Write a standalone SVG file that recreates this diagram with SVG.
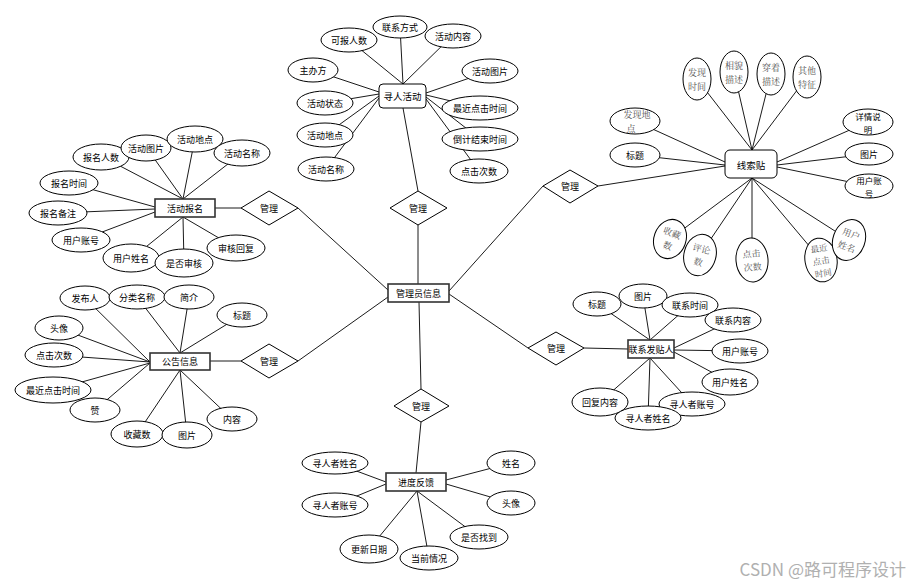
<svg xmlns="http://www.w3.org/2000/svg" width="912" height="584" viewBox="0 0 912 584">
<style>
.c line{stroke:#000;stroke-width:0.9}
ellipse{fill:#fff;stroke:#000;stroke-width:1}
.d{fill:#fff;stroke:#000;stroke-width:1}
.e{fill:#fff;stroke:#333;stroke-width:1.6}
.r{fill:#fff;stroke:#000;stroke-width:1}
text{font-family:"Noto Sans CJK SC","Noto Sans",sans-serif;font-size:9px;text-anchor:middle;dominant-baseline:central;fill:#000}
.s{font-family:"Noto Serif CJK SC","Noto Sans CJK SC",serif;font-size:9px;fill:#555}
.t{font-size:8.5px}
.w{font-size:17px;fill:#b0b0b0;text-anchor:end}
</style>
<rect width="912" height="584" fill="#fff"/>
<g id="connectors" class="c">
<line x1="349" y1="40" x2="403" y2="84"/><line x1="400" y1="27" x2="403" y2="84"/><line x1="453" y1="35" x2="403" y2="84"/>
<line x1="313" y1="70" x2="379" y2="92"/><line x1="325" y1="103" x2="379" y2="94"/><line x1="325" y1="135" x2="379" y2="96"/><line x1="326" y1="169" x2="379" y2="98"/>
<line x1="490" y1="71" x2="426" y2="93"/><line x1="480" y1="108" x2="426" y2="95"/><line x1="480" y1="139" x2="426" y2="97"/><line x1="479" y1="171" x2="426" y2="99"/>
<line x1="403" y1="108" x2="418" y2="191"/><line x1="418" y1="225" x2="418" y2="284"/>
<line x1="697" y1="79" x2="752" y2="150"/><line x1="734" y1="72" x2="752" y2="150"/><line x1="771" y1="74" x2="752" y2="150"/><line x1="807" y1="77" x2="752" y2="150"/>
<line x1="635" y1="121" x2="725" y2="162"/><line x1="635" y1="155" x2="725" y2="165"/>
<line x1="868" y1="122" x2="777" y2="162"/><line x1="869" y1="154" x2="777" y2="165"/><line x1="869" y1="186" x2="777" y2="167"/>
<line x1="670" y1="239" x2="752" y2="178"/><line x1="700" y1="255" x2="752" y2="178"/><line x1="752" y1="260" x2="752" y2="178"/><line x1="821" y1="260" x2="752" y2="178"/><line x1="849" y1="240" x2="752" y2="178"/>
<line x1="598" y1="186" x2="725" y2="166"/><line x1="543" y1="186" x2="449" y2="291"/>
<line x1="101" y1="156" x2="183" y2="199"/><line x1="146" y1="147" x2="183" y2="199"/><line x1="195" y1="138" x2="183" y2="199"/><line x1="242" y1="153" x2="183" y2="199"/>
<line x1="69" y1="183" x2="155" y2="207"/><line x1="58" y1="213" x2="155" y2="209"/><line x1="81" y1="240" x2="155" y2="212"/>
<line x1="131" y1="259" x2="183" y2="217"/><line x1="184" y1="263" x2="183" y2="217"/><line x1="236" y1="248" x2="183" y2="217"/>
<line x1="215" y1="208" x2="241" y2="208"/><line x1="298" y1="208" x2="388" y2="290"/>
<line x1="85" y1="298" x2="150" y2="362"/><line x1="137" y1="297" x2="180" y2="353"/><line x1="189" y1="297" x2="180" y2="353"/><line x1="242" y1="315" x2="180" y2="353"/>
<line x1="59" y1="328" x2="150" y2="362"/><line x1="54" y1="355" x2="150" y2="362"/><line x1="53" y1="390" x2="150" y2="363"/><line x1="95" y1="410" x2="150" y2="363"/>
<line x1="137" y1="434" x2="180" y2="370"/><line x1="187" y1="435" x2="180" y2="370"/><line x1="232" y1="419" x2="180" y2="370"/>
<line x1="210" y1="361" x2="241" y2="361"/><line x1="298" y1="361" x2="388" y2="297"/>
<line x1="597" y1="304" x2="650" y2="340"/><line x1="643" y1="296" x2="650" y2="340"/><line x1="690" y1="305" x2="650" y2="340"/>
<line x1="733" y1="320" x2="674" y2="348"/><line x1="740" y1="351" x2="674" y2="350"/><line x1="730" y1="382" x2="674" y2="352"/>
<line x1="600" y1="402" x2="650" y2="358"/><line x1="648" y1="418" x2="650" y2="358"/><line x1="692" y1="404" x2="650" y2="358"/>
<line x1="584" y1="348" x2="628" y2="349"/><line x1="528" y1="348" x2="449" y2="294"/>
<line x1="419" y1="302" x2="421" y2="389"/><line x1="421" y1="422" x2="416" y2="473"/>
<line x1="335" y1="463" x2="386" y2="482"/><line x1="335" y1="505" x2="386" y2="484"/>
<line x1="369" y1="549" x2="417" y2="491"/><line x1="429" y1="558" x2="417" y2="491"/><line x1="479" y1="537" x2="417" y2="491"/>
<line x1="511" y1="463" x2="446" y2="480"/><line x1="511" y1="503" x2="446" y2="484"/>
</g>

<g id="admin"><rect class="e" x="388" y="284" width="61" height="18"/><text x="418.5" y="293">管理员信息</text></g>

<g id="rel-top"><polygon class="d" points="390,208 418,191 447,208 418,225"/><text x="418" y="208">管理</text></g>
<g id="rel-lt"><polygon class="d" points="241,208 269,191 298,208 269,225"/><text x="269" y="208">管理</text></g>
<g id="rel-rt"><polygon class="d" points="543,186 570,170 598,186 570,203"/><text x="570" y="186">管理</text></g>
<g id="rel-rb"><polygon class="d" points="528,348 556,332 584,348 556,365"/><text x="556" y="348">管理</text></g>
<g id="rel-lb"><polygon class="d" points="241,361 269,344 298,361 269,378"/><text x="269" y="361">管理</text></g>
<g id="rel-b"><polygon class="d" points="394,406 421,389 449,406 421,422"/><text x="421" y="406">管理</text></g>

<g id="xunren"><rect class="r" x="379" y="84" width="47" height="24" rx="4"/><text x="402.5" y="96" style="font-size:9.5px">寻人活动</text></g>
<g id="xr-a1"><ellipse cx="349" cy="40" rx="28" ry="12"/><text x="349" y="40">可报人数</text></g>
<g id="xr-a2"><ellipse cx="400" cy="27" rx="27" ry="11"/><text x="400" y="27">联系方式</text></g>
<g id="xr-a3"><ellipse cx="453" cy="36" rx="28" ry="12"/><text x="453" y="36">活动内容</text></g>
<g id="xr-a4"><ellipse cx="313" cy="70" rx="25" ry="12"/><text x="313" y="70">主办方</text></g>
<g id="xr-a5"><ellipse cx="325" cy="103" rx="28" ry="12"/><text x="325" y="103">活动状态</text></g>
<g id="xr-a6"><ellipse cx="325" cy="135" rx="28" ry="12"/><text x="325" y="135">活动地点</text></g>
<g id="xr-a7"><ellipse cx="326" cy="169" rx="28" ry="12"/><text x="326" y="169">活动名称</text></g>
<g id="xr-a8"><ellipse cx="490" cy="71" rx="28" ry="12"/><text x="490" y="71">活动图片</text></g>
<g id="xr-a9"><ellipse cx="480" cy="108" rx="38" ry="12"/><text x="480" y="108">最近点击时间</text></g>
<g id="xr-a10"><ellipse cx="480" cy="139" rx="38" ry="12"/><text x="480" y="139">倒计结束时间</text></g>
<g id="xr-a11"><ellipse cx="479" cy="171" rx="29" ry="12"/><text x="479" y="171">点击次数</text></g>

<g id="xiansuo"><rect class="r" x="725" y="150" width="52" height="28" rx="5"/><text x="751" y="165" style="font-size:9.5px">线索贴</text></g>
<g id="xs-a1"><ellipse cx="697" cy="79" rx="14" ry="21"/><text class="s" x="697" y="72.5">发现</text><text class="s" x="697" y="86">时间</text></g>
<g id="xs-a2"><ellipse cx="734" cy="72" rx="14" ry="21"/><text class="s" x="734" y="65.5">相貌</text><text class="s" x="734" y="79">描述</text></g>
<g id="xs-a3"><ellipse cx="771" cy="74" rx="14" ry="21"/><text class="s" x="771" y="67.5">穿着</text><text class="s" x="771" y="81">描述</text></g>
<g id="xs-a4"><ellipse cx="807" cy="77" rx="14" ry="21"/><text class="s" x="807" y="70.5">其他</text><text class="s" x="807" y="84">特征</text></g>
<g id="xs-a5"><ellipse cx="635" cy="121" rx="25" ry="13"/><text class="s" x="637" y="114.5">发现地</text><text class="s" x="631" y="128">点</text></g>
<g id="xs-a6"><ellipse cx="635" cy="155" rx="25" ry="12"/><text x="635" y="155">标题</text></g>
<g id="xs-a7"><ellipse cx="868" cy="122" rx="25" ry="13"/><text class="t" x="868" y="115.5">详情说</text><text class="t" x="868" y="128.5">明</text></g>
<g id="xs-a8"><ellipse cx="869" cy="154" rx="24" ry="11"/><text x="869" y="154">图片</text></g>
<g id="xs-a9"><ellipse cx="869" cy="186" rx="24" ry="12"/><text class="t" x="869" y="179.5">用户账</text><text class="t" x="869" y="192.5">号</text></g>
<g id="xs-a10" transform="rotate(20 670 239)"><ellipse cx="670" cy="239" rx="16" ry="20"/><text class="s" x="670" y="232.5">收藏</text><text class="s" x="670" y="246">数</text></g>
<g id="xs-a11" transform="rotate(15 700 255)"><ellipse cx="700" cy="255" rx="16" ry="21"/><text class="s" x="700" y="248.5">评论</text><text class="s" x="700" y="262">数</text></g>
<g id="xs-a12" transform="rotate(-5 752 260)"><ellipse cx="752" cy="260" rx="16" ry="22"/><text class="s" x="752" y="253.5">点击</text><text class="s" x="752" y="267">次数</text></g>
<g id="xs-a13" transform="rotate(-10 821 260)"><ellipse cx="821" cy="260" rx="16" ry="22"/><text class="s t" x="821" y="247.5">最近</text><text class="s t" x="821" y="260">点击</text><text class="s t" x="821" y="272.5">时间</text></g>
<g id="xs-a14" transform="rotate(20 849 240)"><ellipse cx="849" cy="240" rx="16" ry="21"/><text class="s" x="849" y="233.5">用户</text><text class="s" x="849" y="247">姓名</text></g>

<g id="baoming"><rect class="e" x="155" y="199" width="60" height="18"/><text x="185" y="208">活动报名</text></g>
<g id="bm-a1"><ellipse cx="101" cy="157" rx="28" ry="13"/><text x="101" y="157">报名人数</text></g>
<g id="bm-a2"><ellipse cx="146" cy="148" rx="25" ry="13"/><text x="146" y="148">活动图片</text></g>
<g id="bm-a3"><ellipse cx="195" cy="139" rx="28" ry="13"/><text x="195" y="139">活动地点</text></g>
<g id="bm-a4"><ellipse cx="242" cy="153" rx="28" ry="13"/><text x="242" y="153">活动名称</text></g>
<g id="bm-a5"><ellipse cx="69" cy="183" rx="29" ry="12"/><text x="69" y="183">报名时间</text></g>
<g id="bm-a6"><ellipse cx="58" cy="213" rx="29" ry="12"/><text x="58" y="213">报名备注</text></g>
<g id="bm-a7"><ellipse cx="81" cy="240" rx="29" ry="12"/><text x="81" y="240">用户账号</text></g>
<g id="bm-a8"><ellipse cx="131" cy="258" rx="28" ry="14"/><text x="131" y="258">用户姓名</text></g>
<g id="bm-a9"><ellipse cx="184" cy="263" rx="29" ry="14"/><text x="184" y="263">是否审核</text></g>
<g id="bm-a10"><ellipse cx="236" cy="248" rx="29" ry="13"/><text x="236" y="248">审核回复</text></g>

<g id="gonggao"><rect class="e" x="150" y="353" width="60" height="17"/><text x="180" y="361.5">公告信息</text></g>
<g id="gg-a1"><ellipse cx="85" cy="298" rx="25" ry="12"/><text x="85" y="298">发布人</text></g>
<g id="gg-a2"><ellipse cx="137" cy="297" rx="28" ry="12"/><text x="137" y="297">分类名称</text></g>
<g id="gg-a3"><ellipse cx="189" cy="297" rx="25" ry="12"/><text x="189" y="297">简介</text></g>
<g id="gg-a4"><ellipse cx="242" cy="315" rx="25" ry="12"/><text x="242" y="315">标题</text></g>
<g id="gg-a5"><ellipse cx="59" cy="328" rx="24" ry="12"/><text x="59" y="328">头像</text></g>
<g id="gg-a6"><ellipse cx="54" cy="355" rx="29" ry="12"/><text x="54" y="355">点击次数</text></g>
<g id="gg-a7"><ellipse cx="53" cy="390" rx="38" ry="13"/><text x="53" y="390">最近点击时间</text></g>
<g id="gg-a8"><ellipse cx="95" cy="410" rx="25" ry="12"/><text x="95" y="410">赞</text></g>
<g id="gg-a9"><ellipse cx="137" cy="434" rx="26" ry="13"/><text x="137" y="434">收藏数</text></g>
<g id="gg-a10"><ellipse cx="187" cy="435" rx="25" ry="13"/><text x="187" y="435">图片</text></g>
<g id="gg-a11"><ellipse cx="232" cy="419" rx="25" ry="12"/><text x="232" y="419">内容</text></g>

<g id="lianxi"><rect class="e" x="628" y="340" width="46" height="18"/><text x="651" y="349">联系发贴人</text></g>
<g id="lx-a1"><ellipse cx="597" cy="304" rx="24" ry="12"/><text x="597" y="304">标题</text></g>
<g id="lx-a2"><ellipse cx="643" cy="296" rx="24" ry="12"/><text x="643" y="296">图片</text></g>
<g id="lx-a3"><ellipse cx="690" cy="305" rx="28" ry="12"/><text x="690" y="305">联系时间</text></g>
<g id="lx-a4"><ellipse cx="733" cy="320" rx="28" ry="12"/><text x="733" y="320">联系内容</text></g>
<g id="lx-a5"><ellipse cx="740" cy="351" rx="28" ry="12"/><text x="740" y="351">用户账号</text></g>
<g id="lx-a6"><ellipse cx="730" cy="382" rx="28" ry="13"/><text x="730" y="382">用户姓名</text></g>
<g id="lx-a7"><ellipse cx="600" cy="402" rx="28" ry="14"/><text x="600" y="402">回复内容</text></g>
<g id="lx-a8"><ellipse cx="692" cy="404" rx="33" ry="12"/><text x="692" y="404">寻人者账号</text></g>
<g id="lx-a9"><ellipse cx="648" cy="418" rx="33" ry="12"/><text x="648" y="418">寻人者姓名</text></g>

<g id="jindu"><rect class="e" x="386" y="473" width="60" height="18"/><text x="416" y="482">进度反馈</text></g>
<g id="jd-a1"><ellipse cx="335" cy="463" rx="33" ry="11"/><text x="335" y="463">寻人者姓名</text></g>
<g id="jd-a2"><ellipse cx="335" cy="505" rx="33" ry="12"/><text x="335" y="505">寻人者账号</text></g>
<g id="jd-a3"><ellipse cx="369" cy="549" rx="29" ry="14"/><text x="369" y="549">更新日期</text></g>
<g id="jd-a4"><ellipse cx="429" cy="558" rx="29" ry="12"/><text x="429" y="558">当前情况</text></g>
<g id="jd-a5"><ellipse cx="479" cy="537" rx="29" ry="12"/><text x="479" y="537">是否找到</text></g>
<g id="jd-a6"><ellipse cx="511" cy="463" rx="24" ry="12"/><text x="511" y="463">姓名</text></g>
<g id="jd-a7"><ellipse cx="511" cy="503" rx="24" ry="12"/><text x="511" y="503">头像</text></g>

<text class="w" x="906" y="568">CSDN @路可程序设计</text>
</svg>
